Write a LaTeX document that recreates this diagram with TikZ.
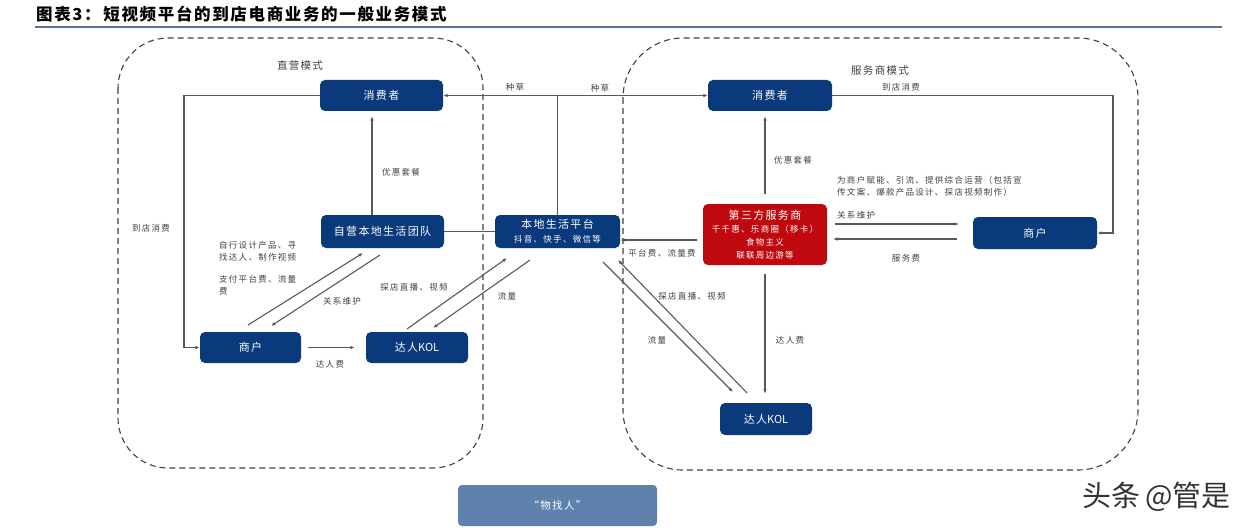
\documentclass[tikz,border=0pt]{standalone}
\usepackage{fontspec}
\setmainfont{Noto Sans CJK SC}
\newfontfamily\lblf[LetterSpace=15]{Noto Sans CJK SC}
\newfontfamily\boxf[LetterSpace=12]{Noto Sans CJK SC}
\newfontfamily\titf[LetterSpace=10]{Noto Sans CJK SC}
\usetikzlibrary{arrows.meta,calc}
\definecolor{navy}{HTML}{0A3A7C}
\definecolor{svcred}{HTML}{C0090F}
\definecolor{ln}{HTML}{595959}
\definecolor{lbl}{HTML}{404040}
\definecolor{wzr}{HTML}{5E82AC}
\definecolor{rulec}{HTML}{5A7396}
\tikzset{
  box/.style={draw=none, fill=navy, rounded corners=5pt, text=white, font=\boxf\fontsize{11}{13}\selectfont, align=center, inner sep=0pt},
  redbox/.style={box, fill=svcred},
  arr/.style={draw=ln, line width=1.1pt, -{Latex[length=4.5pt,width=3.5pt]}},
  plain/.style={draw=ln, line width=1.1pt},
  lab/.style={text=lbl, font=\lblf\fontsize{8.5}{12}\selectfont, inner sep=0pt},
  labl/.style={lab, anchor=west, align=left},
  zone/.style={draw=lbl, line width=1.1pt, dash pattern=on 6pt off 4pt},
  zonetitle/.style={text=lbl, font=\boxf\fontsize{10.5}{12}\selectfont, inner sep=0pt}
}
\newcommand{\subl}{\lblf\fontsize{8.5}{12}\selectfont}
\begin{document}
\begin{tikzpicture}[x=1pt,y=-1pt]
\useasboundingbox (0,0) rectangle (1236,532);
% title
\node[anchor=west, inner sep=0pt, font=\titf\fontsize{16.5}{18}\selectfont\bfseries] (title) at (36,14) {图表3：\,短视频平台的到店电商业务的一般业务模式};
\draw[rulec, line width=2pt] (35,27.5) -- (1222,27.5);
% zones
\draw[zone, rounded corners=50pt] (118,38) rectangle (483,468);
\draw[zone, rounded corners=60pt] (623,38) rectangle (1138,470);
\node[zonetitle] (zt1) at (300,66) {直营模式};
\node[zonetitle] (zt2) at (880,71) {服务商模式};
% nodes
\node[box, minimum width=123pt, minimum height=31pt] (cL) at (381.5,95.5) {消费者};
\node[box, minimum width=123pt, minimum height=33pt] (team) at (382.5,231.5) {自营本地生活团队};
\node[box, minimum width=125pt, minimum height=33pt] (plat) at (557.5,231.5) {本地生活平台\\[1pt]{\subl 抖音、快手、微信等}};
\node[box, minimum width=101pt, minimum height=31pt] (mL) at (250.5,347.5) {商户};
\node[box, minimum width=102pt, minimum height=31pt] (kL) at (417,347.5) {达人\rmfamily KOL};
\node[box, minimum width=124pt, minimum height=31pt] (cR) at (770,95.5) {消费者};
\node[redbox, minimum width=124pt, minimum height=61pt] (svc) at (765,234.5) {第三方服务商\\[0pt]{\subl 千千惠、乐商圈（移卡）}\\{\subl 食物主义}\\{\subl 联联周边游等}};
\node[box, minimum width=124pt, minimum height=32pt] (mR) at (1035,233) {商户};
\node[box, minimum width=92pt, minimum height=32pt] (kR) at (766,419) {达人\rmfamily KOL};
\node[box, fill=wzr, rounded corners=4pt, minimum width=199pt, minimum height=41pt, font=\boxf\fontsize{10.5}{12}\selectfont] (wzrn) at (557.5,505.5) {“物找人”};
% watermark
\node[anchor=east, inner sep=0pt, text=black!80, font=\fontsize{29}{31}\selectfont] (wm) at (1231,497) {头条\,@管是};
% connectors left
\coordinate (lc) at (184,95.5);
\draw[arr] (cL.west) -- (lc) |- (mL.west);
\coordinate (tu) at (372,0);
\draw[arr, shorten >=5pt] (tu |- team.north) -- (tu |- cL.south);
\draw[plain] (team.east) -- (plat.west);
\coordinate (j) at (plat.north |- cL.east);
\draw[plain] (plat.north) -- (j);
\draw[arr] (j) -- (cL.east);
\draw[arr] (j) -- (cR.west);
\coordinate (a1) at (248,325); \coordinate (a2) at (363,253);
\coordinate (b1) at (380,255); \coordinate (b2) at (271,326);
\draw[arr] (a1) -- (a2);
\draw[arr] (b1) -- (b2);
\draw[arr, shorten <=7pt, shorten >=11pt] (mL.east) -- (kL.west);
\coordinate (c1) at (407,329); \coordinate (c2) at (507,258);
\coordinate (d1) at (530,260); \coordinate (d2) at (433,328);
\draw[arr] (c1) -- (c2);
\draw[arr] (d1) -- (d2);
% connectors right
\coordinate (e1) at (697,240); \coordinate (e2) at (plat.east |- e1);
\draw[arr] (e1) -- (e2);
\draw[arr, shorten <=10pt, shorten >=5pt] (svc.north) -- (svc.north |- cR.south);
\coordinate (rc) at (1113,95.5);
\draw[arr] (cR.east) -- (rc) |- (mR.east);
\coordinate (f1) at (835,224); \coordinate (f2) at (959,224);
\coordinate (g1) at (957,239); \coordinate (g2) at (833,239);
\draw[arr] (f1) -- (f2);
\draw[arr] (g1) -- (g2);
\draw[arr, shorten <=9pt, shorten >=9pt] (svc.south) -- (svc.south |- kR.north);
\coordinate (h1) at (603,262); \coordinate (h2) at (733,392);
\coordinate (i1) at (747,393); \coordinate (i2) at (618,260);
\draw[arr] (h1) -- (h2);
\draw[arr] (i1) -- (i2);
% labels
\node[lab] (l1) at (151,228) {到店消费};
\node[lab] (l2) at (401,172) {优惠套餐};
\node[lab] (l3) at (515,87) {种草};
\node[lab] (l4) at (600,88) {种草};
\node[labl] (l5) at (219,251) {自行设计产品、寻\\找达人、制作视频};
\node[labl] (l6) at (219,285) {支付平台费、流量\\费};
\node[lab] (l7) at (342,301) {关系维护};
\node[lab] (l8) at (330,364) {达人费};
\node[lab] (l9) at (414,287) {探店直播、视频};
\node[lab] (l10) at (507,296) {流量};
\node[lab] (l11) at (662,253) {平台费、流量费};
\node[lab] (l12) at (692,296) {探店直播、视频};
\node[lab] (l13) at (657,340) {流量};
\node[lab] (l14) at (790,340) {达人费};
\node[lab] (l15) at (793,160) {优惠套餐};
\node[lab] (l16) at (901,87) {到店消费};
\node[labl] (l17) at (837,186) {为商户赋能、引流、提供综合运营（包括宣\\传文案、爆款产品设计、探店视频制作）};
\node[labl] (l18) at (837,215) {关系维护};
\node[lab] (l19) at (906,258) {服务费};
\end{tikzpicture}
\end{document}
